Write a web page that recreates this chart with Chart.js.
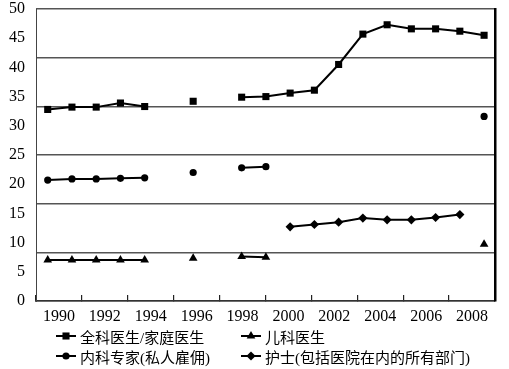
<!DOCTYPE html>
<html>
<head>
<meta charset="utf-8">
<script src="https://cdn.jsdelivr.net/npm/chart.js@4.4.1/dist/chart.umd.min.js"></script>
<style>
  html, body { margin: 0; padding: 0; background: #fff; }
  #wrap { position: relative; width: 509px; height: 369px; }
  #legend { position: absolute; left: 0; top: 0; width: 509px; height: 369px; pointer-events: none; }
  .item { position: absolute; height: 20px; display: flex; align-items: center;
          font-family: "Liberation Serif", "DejaVu Serif", "Noto Sans CJK SC", serif; font-size: 15px; color: #000; white-space: nowrap; }
  .item canvas { margin-right: 3px; }
</style>
</head>
<body>
<div id="wrap">
  <canvas id="chart" width="509" height="369"></canvas>
  <div id="legend"></div>
</div>
<script>
// 数据
const years = [1990, 1991, 1992, 1993, 1994, 1995, 1996, 1997, 1998, 1999,
               2000, 2001, 2002, 2003, 2004, 2005, 2006, 2007, 2008];
const yearLabels = ['1990', '1992', '1994', '1996', '1998', '2000', '2002', '2004', '2006', '2008'];
const seriesNames = ['全科医生/家庭医生', '儿科医生', '内科专家(私人雇佣)', '护士(包括医院在内的所有部门)'];

const gp = [32.8, 33.2, 33.2, 33.9, 33.3, null, 34.2, null, 34.9, 35.0,
            35.6, 36.1, 40.5, 45.7, 47.3, 46.6, 46.6, 46.2, 45.5];
const pediatric = [7.0, 7.0, 7.0, 7.0, 7.0, null, 7.3, null, 7.6, 7.5,
                   null, null, null, null, null, null, null, null, 9.7];
const specialist = [20.7, 20.9, 20.9, 21.0, 21.1, null, 22.0, null, 22.8, 23.0,
                    null, null, null, null, null, null, null, null, 31.6];
const nurse = [null, null, null, null, null, null, null, null, null, null,
               12.7, 13.1, 13.5, 14.2, 13.9, 13.9, 14.3, 14.8, null];

const yTicks = [0, 5, 10, 15, 20, 25, 30, 35, 40, 45, 50];

const pointStyles = ['rect', 'triangle', 'circle', 'rectRot'];
const pointRadii = [5, 5, 3.6, 4.6];

function toPoints(vals) {
    return years.map((y, i) => ({ x: y, y: vals[i] }));
}

const serifFamily = '"Liberation Serif", "DejaVu Serif", serif';

function desenhar() {
    const serifFont = { family: serifFamily, size: 16, lineHeight: 0.75 };

    const datasets = [gp, pediatric, specialist, nurse].map((vals, i) => ({
        label: seriesNames[i],
        data: toPoints(vals),
        xAxisID: 'x',
        yAxisID: 'y',
        borderColor: '#000',
        backgroundColor: '#000',
        borderWidth: 2,
        pointStyle: pointStyles[i],
        pointRadius: pointRadii[i],
        pointBorderWidth: 0,
        pointBackgroundColor: '#000',
        spanGaps: false,
        tension: 0
    }));

    const chart = new Chart(document.getElementById('chart'), {
        type: 'line',
        data: { datasets: datasets },
        options: {
            responsive: false,
            animation: false,
            layout: { padding: { left: 0, right: 14, top: 9, bottom: 44 } },
            plugins: { legend: { display: false }, tooltip: { enabled: false } },
            scales: {
                x: {
                    type: 'linear',
                    min: 1989.517,
                    max: 2008.45,
                    display: false
                },
                xl: {
                    type: 'category',
                    position: 'bottom',
                    labels: yearLabels,
                    offset: true,
                    grid: {
                        offset: true,
                        drawOnChartArea: false,
                        drawTicks: true,
                        tickLength: -6,
                        color: '#222',
                        lineWidth: 1.2
                    },
                    border: { display: true, color: '#333', width: 1.5 },
                    ticks: { font: { family: serifFamily, size: 16 }, color: '#000', padding: 12, maxRotation: 0, autoSkip: false },
                    afterFit: (s) => { s.height = 24; }
                },
                y: {
                    type: 'linear',
                    position: 'left',
                    min: 0,
                    max: 50,
                    afterBuildTicks: (s) => { s.ticks = yTicks.map(v => ({ value: v })); },
                    grid: { display: false },
                    border: { display: true, color: '#444', width: 1 },
                    ticks: { font: serifFont, color: '#000', padding: 3 },
                    afterFit: (s) => { s.width = 36; }
                },
                yg: {
                    type: 'linear',
                    position: 'right',
                    min: 0,
                    max: 50,
                    ticks: { display: false, stepSize: 50 / 6 },
                    grid: { color: '#555', lineWidth: 1.5, drawTicks: false },
                    border: { display: true, color: '#000', width: 2.5 },
                    afterFit: (s) => { s.width = 0; }
                }
            }
        }
    });

    // 图例 (两列两行)
    const legendBox = document.getElementById('legend');
    const legendPos = [
        { left: 55, top: 326 },
        { left: 240, top: 326 },
        { left: 55, top: 346 },
        { left: 240, top: 346 }
    ];
    chart.data.datasets.forEach((ds, i) => {
        const item = document.createElement('div');
        item.className = 'item';
        item.style.left = legendPos[i].left + 'px';
        item.style.top = legendPos[i].top + 'px';
        const ic = document.createElement('canvas');
        ic.width = 22;
        ic.height = 20;
        const c = ic.getContext('2d');
        c.strokeStyle = '#000';
        c.fillStyle = '#000';
        c.lineWidth = 2;
        c.beginPath();
        c.moveTo(1, 10);
        c.lineTo(21, 10);
        c.stroke();
        if (Chart.helpers && Chart.helpers.drawPoint) {
            Chart.helpers.drawPoint(c, { pointStyle: ds.pointStyle, radius: ds.pointRadius, borderWidth: 0, rotation: 0 }, 11, 10);
        }
        item.appendChild(ic);
        const t = document.createElement('span');
        t.textContent = ds.label;
        item.appendChild(t);
        legendBox.appendChild(item);
    });
}

Promise.all([
    document.fonts.load('16px "Liberation Serif"'),
    document.fonts.load('15px "Noto Sans CJK SC"', '全科医生')
]).then(desenhar, desenhar);
</script>
</body>
</html>
